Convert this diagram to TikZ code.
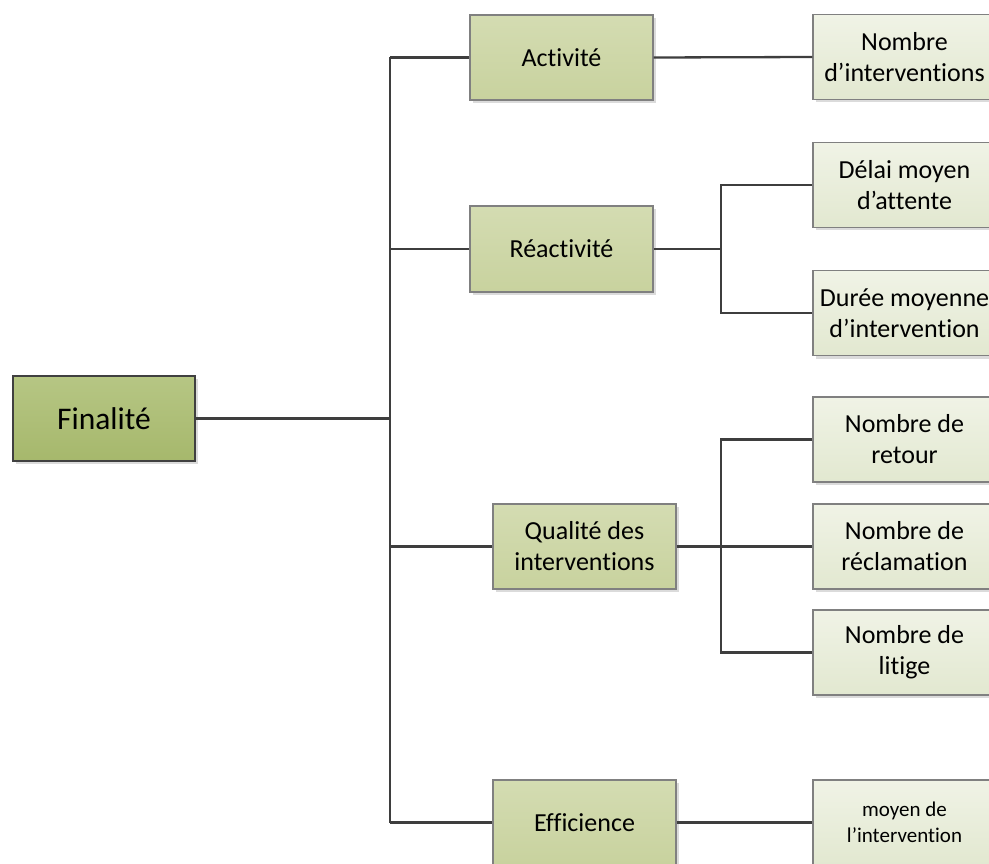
\documentclass[tikz,border=0pt]{standalone}
\usepackage{fontspec}
\setmainfont{Carlito}[RawFeature={-liga;-clig;-calt;-dlig;-rlig}]
\usetikzlibrary{shadows}
\definecolor{linkgray}{RGB}{62,62,62}
\definecolor{rootedge}{RGB}{64,64,64}
\definecolor{boxedge}{RGB}{128,128,128}
\definecolor{rootTop}{RGB}{182,198,132}
\definecolor{rootBot}{RGB}{166,184,108}
\definecolor{midTop}{RGB}{212,220,178}
\definecolor{midBot}{RGB}{200,210,158}
\definecolor{leafTop}{RGB}{240,243,230}
\definecolor{leafBot}{RGB}{226,232,208}
\tikzset{
  basebox/.style={rectangle, inner sep=0pt, align=center, text=black,
    minimum width=183pt, minimum height=85pt,
    drop shadow={shadow xshift=3pt, shadow yshift=-3pt, fill=black!14, opacity=1}},
  rootbox/.style={basebox, draw=rootedge, line width=1.2pt, top color=rootTop, bottom color=rootBot,
    minimum width=182pt, font=\fontsize{31.5}{36}\selectfont},
  midbox/.style={basebox, draw=boxedge, line width=1.2pt, top color=midTop, bottom color=midBot,
    font=\fontsize{26}{31}\selectfont},
  leafbox/.style={basebox, draw=boxedge, line width=1.2pt, top color=leafTop, bottom color=leafBot,
    font=\fontsize{26}{31}\selectfont},
  link/.style={draw=linkgray, line width=2.3pt}
}
\begin{document}
\begin{tikzpicture}[x=1pt,y=-1pt]
\useasboundingbox (0,0) rectangle (989,864);
\clip (0,0) rectangle (989,864);

% root
\node[rootbox] (fin) at (104,418.5) {Finalité};

% second level
\node[midbox] (act) at (561.5,57.5) {Activité};
\node[midbox, minimum height=86pt] (rea) at (561.5,249) {Réactivité};
\node[midbox] (qua) at (584.5,546.5) {Qualité des\\interventions};
\node[midbox] (eff) at (584.5,822.5) {Efficience};

% indicators
\node[leafbox] (nbi) at (904.5,57) {Nombre\\d’interventions};
\node[leafbox] (del) at (904.5,185) {Délai moyen\\d’attente};
\node[leafbox] (dur) at (904.5,313) {Durée moyenne\\d’intervention};
\node[leafbox] (ret) at (904.5,439.5) {Nombre de\\retour};
\node[leafbox] (rec) at (904.5,546.5) {Nombre de\\réclamation};
\node[leafbox] (lit) at (904.5,652.5) {Nombre de\\litige};
\node[leafbox, font=\fontsize{21}{26}\selectfont] (moy) at (904.5,822.5) {moyen de\\l’intervention};

% bus lines
\coordinate (tr) at (390,0);
\coordinate (rt) at (721,0);

% root to second level
\draw[link] (fin.east) -- (fin.east -| tr);
\draw[link] (act.west -| tr) -- (eff.west -| tr);
\draw[link] (act.west -| tr) -- (act.west);
\draw[link] (rea.west -| tr) -- (rea.west);
\draw[link] (qua.west -| tr) -- (qua.west);
\draw[link] (eff.west -| tr) -- (eff.west);

% second level to indicators
\draw[link] (act.east) -- (nbi.west);
\draw[link] (rea.east) -- (rea.east -| rt);
\draw[link] (del.west) -- (del.west -| rt) -- (dur.west -| rt) -- (dur.west);
\draw[link] (qua.east) -- (rec.west);
\draw[link] (ret.west) -- (ret.west -| rt) -- (lit.west -| rt) -- (lit.west);
\draw[link] (eff.east) -- (moy.west);
\end{tikzpicture}
\end{document}
